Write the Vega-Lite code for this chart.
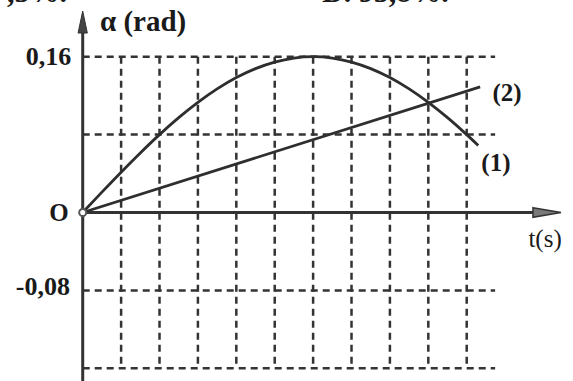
{
  "$schema": "https://vega.github.io/schema/vega-lite/v6.json",
  "width": 573,
  "height": 381,
  "padding": 0,
  "autosize": {"type": "none"},
  "background": "white",
  "config": {"view": {"stroke": null}},
  "datasets": {
    "curves": [
      {"t": 0, "a": 0, "s": "1"},
      {"t": 0.5, "a": 0.0209, "s": "1"},
      {"t": 1, "a": 0.0414, "s": "1"},
      {"t": 1.5, "a": 0.0612, "s": "1"},
      {"t": 2, "a": 0.08, "s": "1"},
      {"t": 2.5, "a": 0.0974, "s": "1"},
      {"t": 3, "a": 0.1131, "s": "1"},
      {"t": 3.5, "a": 0.1269, "s": "1"},
      {"t": 4, "a": 0.1386, "s": "1"},
      {"t": 4.5, "a": 0.1478, "s": "1"},
      {"t": 5, "a": 0.1545, "s": "1"},
      {"t": 5.5, "a": 0.1586, "s": "1"},
      {"t": 6, "a": 0.16, "s": "1"},
      {"t": 6.5, "a": 0.1586, "s": "1"},
      {"t": 7, "a": 0.1545, "s": "1"},
      {"t": 7.5, "a": 0.1478, "s": "1"},
      {"t": 8, "a": 0.1386, "s": "1"},
      {"t": 8.5, "a": 0.1269, "s": "1"},
      {"t": 9, "a": 0.1131, "s": "1"},
      {"t": 9.5, "a": 0.0974, "s": "1"},
      {"t": 10, "a": 0.08, "s": "1"},
      {"t": 10.3, "a": 0.0689, "s": "1"},
      {"t": 0, "a": 0, "s": "2"},
      {"t": 10.35, "a": 0.129, "s": "2"}
    ],
    "vgrid": [
      {"t": 1, "a1": 0.16, "a2": -0.16},
      {"t": 2, "a1": 0.16, "a2": -0.16},
      {"t": 3, "a1": 0.16, "a2": -0.16},
      {"t": 4, "a1": 0.16, "a2": -0.16},
      {"t": 5, "a1": 0.16, "a2": -0.16},
      {"t": 6, "a1": 0.16, "a2": -0.16},
      {"t": 7, "a1": 0.16, "a2": -0.16},
      {"t": 8, "a1": 0.16, "a2": -0.16},
      {"t": 9, "a1": 0.16, "a2": -0.16},
      {"t": 10, "a1": 0.16, "a2": -0.16}
    ],
    "hgrid": [
      {"a": 0.16, "t1": 0, "t2": 10.74},
      {"a": 0.08, "t1": 0, "t2": 10.74},
      {"a": -0.08, "t1": 0, "t2": 10.74},
      {"a": -0.16, "t1": 0, "t2": 10.74}
    ],
    "yaxis": [{"t": 0, "a1": -0.18, "a2": 0.19}],
    "xaxis": [{"a": 0, "t1": 0, "t2": 11.75}],
    "xarrow": [{"t": 12.09, "a": 0}],
    "yarrow": [{"t": 0, "a": 0.1956}],
    "origin": [{"t": 0, "a": 0}],
    "leftLabels": [
      {"t": 0.45, "a": 0.1956, "label": "α (rad)"}
    ],
    "rightLabels": [
      {"t": -0.3, "a": 0.16, "label": "0,16"},
      {"t": -0.33, "a": -0.077, "label": "-0,08"}
    ],
    "centerLabels": [
      {"t": -0.62, "a": 0, "label": "O"},
      {"t": 11.05, "a": 0.1232, "label": "(2)"},
      {"t": 10.76, "a": 0.0508, "label": "(1)"}
    ],
    "plainLabels": [
      {"t": 12.04, "a": -0.0272, "label": "t(s)"}
    ],
    "topLeftText": [
      {"t": -0.41, "a": 0.2162, "label": "C. 97,5%."}
    ],
    "topRightText": [
      {"t": 6.232, "a": 0.2162, "label": "D. 95,8%."}
    ]
  },
  "layer": [
    {
      "data": {"name": "vgrid"},
      "mark": {"type": "rule", "stroke": "#333333", "strokeWidth": 2.5, "strokeDash": [7, 5]},
      "encoding": {
        "x": {"field": "t", "type": "quantitative", "scale": {"domain": [-2.154, 12.768], "nice": false, "zero": false}, "axis": null},
        "y": {"field": "a1", "type": "quantitative", "scale": {"domain": [-0.17304, 0.21823], "nice": false, "zero": false}, "axis": null},
        "y2": {"field": "a2"}
      }
    },
    {
      "data": {"name": "hgrid"},
      "mark": {"type": "rule", "stroke": "#333333", "strokeWidth": 2.5, "strokeDash": [7, 5]},
      "encoding": {
        "x": {"field": "t1", "type": "quantitative", "axis": null},
        "x2": {"field": "t2"},
        "y": {"field": "a", "type": "quantitative", "axis": null}
      }
    },
    {
      "data": {"name": "yaxis"},
      "mark": {"type": "rule", "stroke": "#333333", "strokeWidth": 3},
      "encoding": {
        "x": {"field": "t", "type": "quantitative", "axis": null},
        "y": {"field": "a1", "type": "quantitative", "axis": null},
        "y2": {"field": "a2"}
      }
    },
    {
      "data": {"name": "xaxis"},
      "mark": {"type": "rule", "stroke": "#333333", "strokeWidth": 3},
      "encoding": {
        "x": {"field": "t1", "type": "quantitative", "axis": null},
        "x2": {"field": "t2"},
        "y": {"field": "a", "type": "quantitative", "axis": null}
      }
    },
    {
      "data": {"name": "curves"},
      "mark": {"type": "line", "stroke": "#2e2e2e", "strokeWidth": 2.8, "interpolate": "monotone"},
      "encoding": {
        "x": {"field": "t", "type": "quantitative", "axis": null},
        "y": {"field": "a", "type": "quantitative", "axis": null},
        "detail": {"field": "s"}
      }
    },
    {
      "data": {"name": "origin"},
      "mark": {"type": "point", "shape": "circle", "size": 50, "filled": false, "fill": "white", "stroke": "#555555", "strokeWidth": 2, "opacity": 1},
      "encoding": {
        "x": {"field": "t", "type": "quantitative", "axis": null},
        "y": {"field": "a", "type": "quantitative", "axis": null}
      }
    },
    {
      "data": {"name": "xarrow"},
      "mark": {"type": "point", "shape": "M -1 -0.34 L 1 0 L -1 0.34 Z", "size": 784, "filled": true, "fill": "#7a7a7a", "stroke": "#333333", "strokeWidth": 1.5, "opacity": 1},
      "encoding": {
        "x": {"field": "t", "type": "quantitative", "axis": null},
        "y": {"field": "a", "type": "quantitative", "axis": null}
      }
    },
    {
      "data": {"name": "yarrow"},
      "mark": {"type": "point", "shape": "M -0.42 1 L 0 -1 L 0.42 1 Z", "size": 484, "filled": true, "fill": "#444444", "stroke": "#333333", "strokeWidth": 1, "opacity": 1},
      "encoding": {
        "x": {"field": "t", "type": "quantitative", "axis": null},
        "y": {"field": "a", "type": "quantitative", "axis": null}
      }
    },
    {
      "data": {"name": "leftLabels"},
      "mark": {"type": "text", "font": "Liberation Serif", "fontWeight": "bold", "fontSize": 29, "baseline": "middle", "align": "left", "color": "#1a1a1a"},
      "encoding": {
        "x": {"field": "t", "type": "quantitative", "axis": null},
        "y": {"field": "a", "type": "quantitative", "axis": null},
        "text": {"field": "label"}
      }
    },
    {
      "data": {"name": "rightLabels"},
      "mark": {"type": "text", "font": "Liberation Serif", "fontWeight": "bold", "fontSize": 26, "baseline": "middle", "align": "right", "color": "#1a1a1a"},
      "encoding": {
        "x": {"field": "t", "type": "quantitative", "axis": null},
        "y": {"field": "a", "type": "quantitative", "axis": null},
        "text": {"field": "label"}
      }
    },
    {
      "data": {"name": "centerLabels"},
      "mark": {"type": "text", "font": "Liberation Serif", "fontWeight": "bold", "fontSize": 25, "baseline": "middle", "align": "center", "color": "#1a1a1a"},
      "encoding": {
        "x": {"field": "t", "type": "quantitative", "axis": null},
        "y": {"field": "a", "type": "quantitative", "axis": null},
        "text": {"field": "label"}
      }
    },
    {
      "data": {"name": "plainLabels"},
      "mark": {"type": "text", "font": "Liberation Serif", "fontSize": 25, "baseline": "middle", "align": "center", "color": "#1a1a1a"},
      "encoding": {
        "x": {"field": "t", "type": "quantitative", "axis": null},
        "y": {"field": "a", "type": "quantitative", "axis": null},
        "text": {"field": "label"}
      }
    },
    {
      "data": {"name": "topLeftText"},
      "mark": {"type": "text", "font": "Liberation Serif", "fontWeight": "bold", "fontSize": 30, "baseline": "alphabetic", "align": "right", "color": "#1a1a1a"},
      "encoding": {
        "x": {"field": "t", "type": "quantitative", "axis": null},
        "y": {"field": "a", "type": "quantitative", "axis": null},
        "text": {"field": "label"}
      }
    },
    {
      "data": {"name": "topRightText"},
      "mark": {"type": "text", "font": "Liberation Serif", "fontWeight": "bold", "fontSize": 30, "baseline": "alphabetic", "align": "left", "color": "#1a1a1a"},
      "encoding": {
        "x": {"field": "t", "type": "quantitative", "axis": null},
        "y": {"field": "a", "type": "quantitative", "axis": null},
        "text": {"field": "label"}
      }
    }
  ]
}
